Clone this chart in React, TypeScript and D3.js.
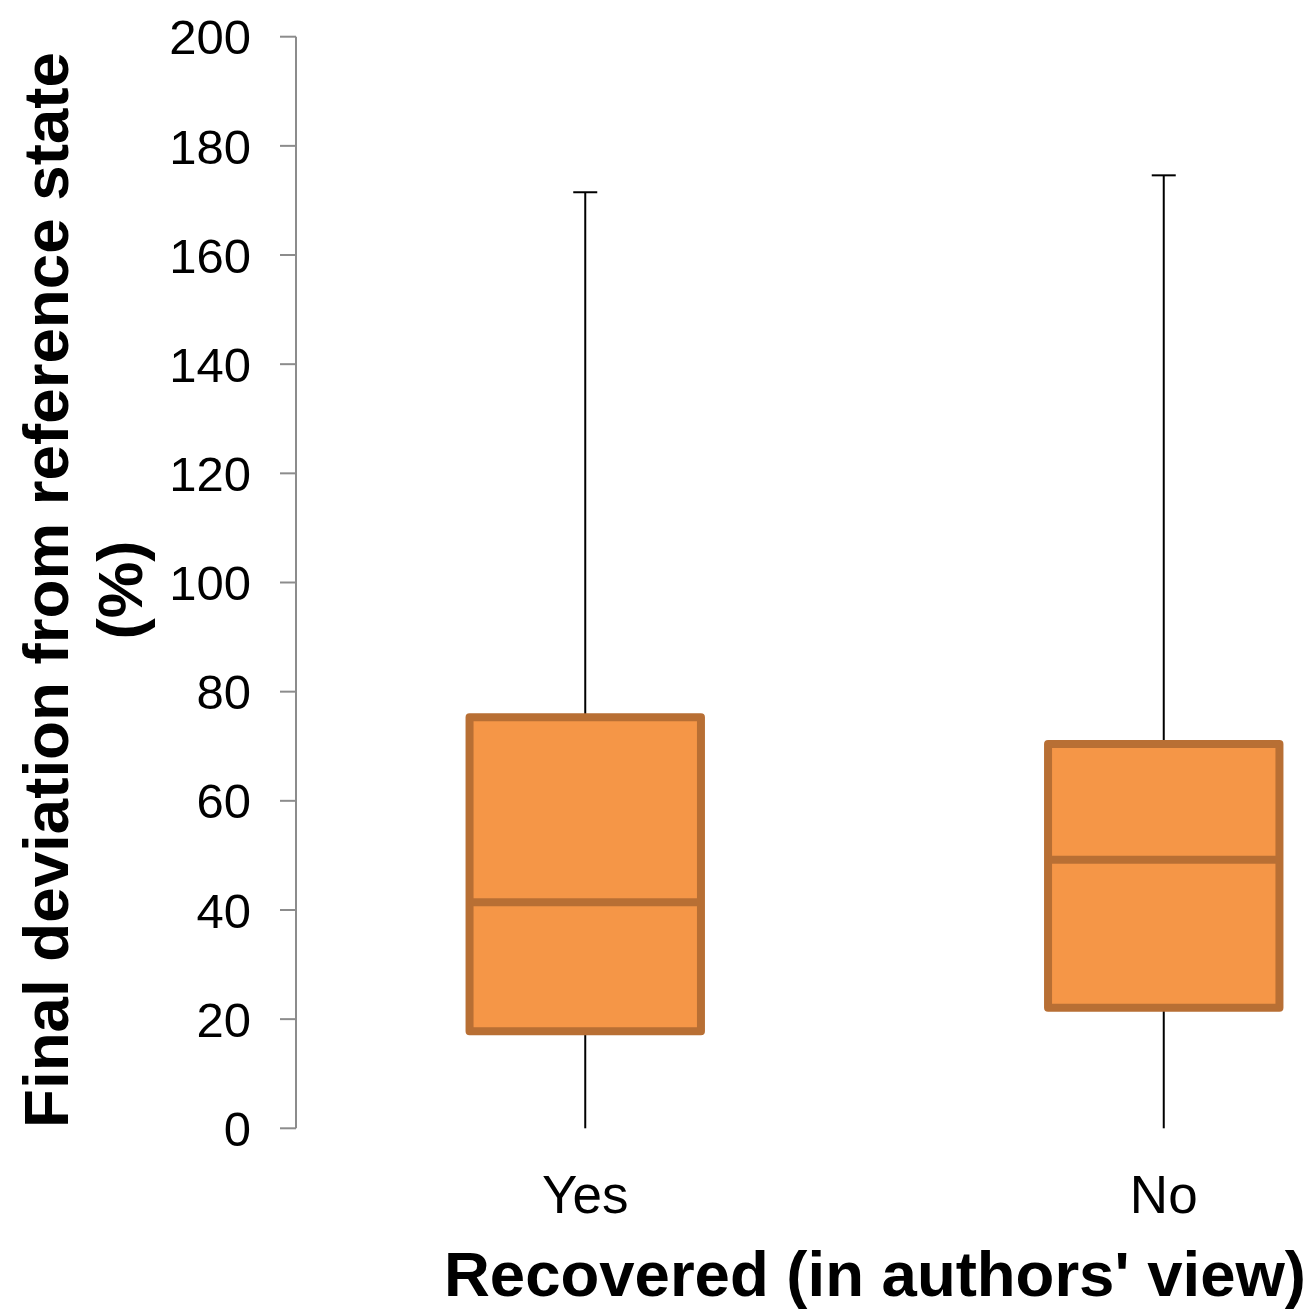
import React from "react";
import * as d3 from "d3";

const categories = ["Yes", "No"];
const minValues = [0, 0];
const q1Values = [17.8, 22.1];
const medianValues = [41.4, 49.2];
const q3Values = [75.3, 70.4];
const maxValues = [171.5, 174.6];
const yTicks = [0, 20, 40, 60, 80, 100, 120, 140, 160, 180, 200];

const W = 1313;
const H = 1309;
const FONT = "'Liberation Sans', Arial, sans-serif";

export default function App() {
  const y = d3.scaleLinear().domain([0, 200]).range([1128.3, 36.7]);
  const x = d3.scaleBand<string>().domain(categories).range([296, 1453]).padding(0);
  const bw = x.bandwidth();
  const boxW = bw * 0.4;
  const capW = 24;
  const axisX = 296;

  return (
    <svg
      width={W}
      height={H}
      style={{ position: "absolute", left: 0, top: 0, background: "#fff" }}
    >
      <rect x={0} y={0} width={W} height={H} fill="#fff" />
      {/* y axis */}
      <line x1={axisX} x2={axisX} y1={y(200)} y2={y(0)} stroke="#8c8c8c" strokeWidth={2} />
      {yTicks.map((t) => (
        <g key={t}>
          <line x1={axisX - 16} x2={axisX} y1={y(t)} y2={y(t)} stroke="#8c8c8c" strokeWidth={2} />
          <text
            x={251}
            y={y(t)}
            dy="0.36em"
            textAnchor="end"
            fontFamily={FONT}
            fontSize={49}
            fill="#000"
          >
            {t}
          </text>
        </g>
      ))}
      {/* boxes */}
      {categories.map((c, i) => {
        const cx = (x(c) as number) + bw / 2;
        return (
          <g key={c}>
            <line x1={cx} x2={cx} y1={y(q3Values[i])} y2={y(maxValues[i])} stroke="#000" strokeWidth={2} />
            <line x1={cx - capW / 2} x2={cx + capW / 2} y1={y(maxValues[i])} y2={y(maxValues[i])} stroke="#000" strokeWidth={2} />
            <line x1={cx} x2={cx} y1={y(minValues[i])} y2={y(q1Values[i])} stroke="#000" strokeWidth={2} />
            <rect
              x={cx - boxW / 2}
              y={y(q3Values[i])}
              width={boxW}
              height={y(q1Values[i]) - y(q3Values[i])}
              fill="#F59647"
              stroke="#B86F34"
              strokeWidth={8}
              strokeLinejoin="round"
            />
            <line
              x1={cx - boxW / 2}
              x2={cx + boxW / 2}
              y1={y(medianValues[i])}
              y2={y(medianValues[i])}
              stroke="#B86F34"
              strokeWidth={8}
            />
            <text
              x={cx}
              y={1213}
              textAnchor="middle"
              fontFamily={FONT}
              fontSize={53}
              fill="#000"
            >
              {c}
            </text>
          </g>
        );
      })}
      {/* x axis title */}
      <text
        x={875}
        y={1296}
        textAnchor="middle"
        fontFamily={FONT}
        fontWeight="bold"
        fontSize={63.5}
        fill="#000"
      >
        Recovered (in authors' view)
      </text>
      {/* y axis title */}
      <g transform="translate(68,590) rotate(-90)">
        <text x={0} y={0} textAnchor="middle" fontFamily={FONT} fontWeight="bold" fontSize={63.7} fill="#000">
          Final deviation from reference state
        </text>
        <text x={0} y={74} textAnchor="middle" fontFamily={FONT} fontWeight="bold" fontSize={63.7} fill="#000">
          (%)
        </text>
      </g>
    </svg>
  );
}
